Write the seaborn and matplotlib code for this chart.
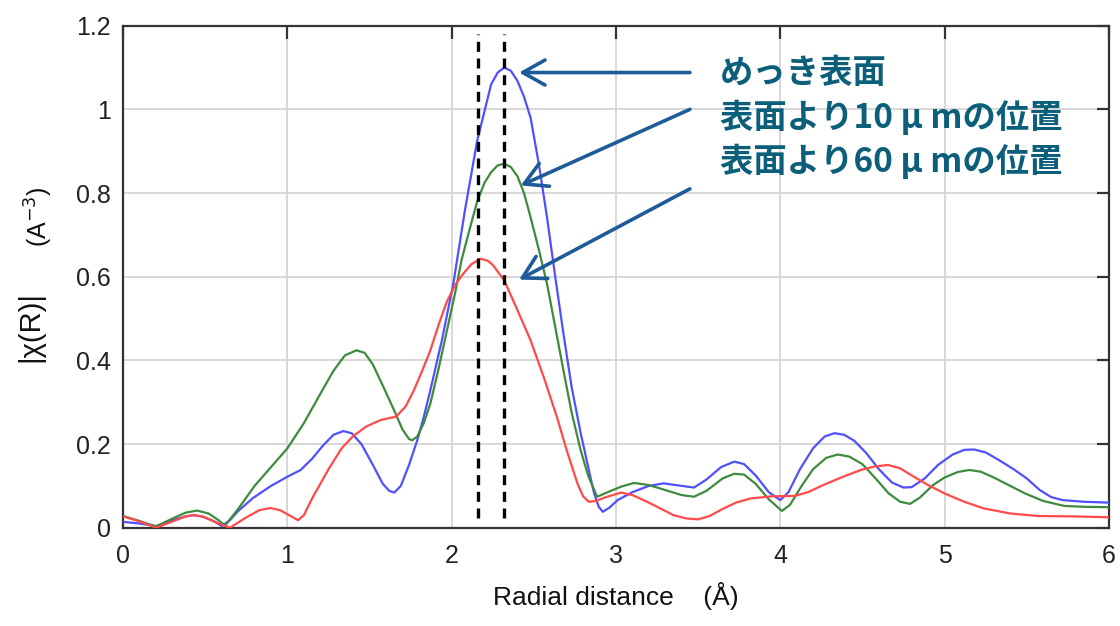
import pandas as pd
import matplotlib.pyplot as plt
import seaborn as sns
import numpy as np

# values
blue_x = [0.0, 0.1, 0.2, 0.3, 0.38, 0.43, 0.48, 0.55, 0.60, 0.65, 0.7, 0.79, 0.9, 1.0, 1.08,
          1.15, 1.22, 1.28, 1.34, 1.39, 1.45, 1.52, 1.58, 1.62, 1.65, 1.69, 1.74, 1.79, 1.83,
          1.87, 1.94, 2.01, 2.08, 2.155, 2.24, 2.28, 2.32, 2.36, 2.40, 2.44, 2.48, 2.53, 2.58,
          2.63, 2.68, 2.73, 2.785, 2.83, 2.866, 2.895, 2.92, 2.96, 3.01, 3.1, 3.2, 3.29, 3.4,
          3.475, 3.55, 3.64, 3.72, 3.78, 3.85, 3.93, 4.0, 4.05, 4.12, 4.2, 4.27, 4.33, 4.39,
          4.45, 4.52, 4.6, 4.68, 4.75, 4.8, 4.88, 4.96, 5.05, 5.12, 5.18, 5.25, 5.33, 5.42,
          5.5, 5.58, 5.65, 5.72, 5.85, 6.0]
blue_y = [0.014, 0.010, 0.004, 0.018, 0.027, 0.030, 0.027, 0.016, 0.004, 0.018, 0.040, 0.071,
          0.100, 0.122, 0.138, 0.165, 0.198, 0.222, 0.231, 0.226, 0.200, 0.150, 0.105, 0.088,
          0.084, 0.100, 0.150, 0.209, 0.265, 0.329, 0.448, 0.584, 0.758, 0.925, 1.060, 1.088,
          1.100, 1.092, 1.068, 1.030, 0.980, 0.870, 0.742, 0.600, 0.464, 0.336, 0.226, 0.146,
          0.083, 0.050, 0.038, 0.048, 0.066, 0.085, 0.100, 0.106, 0.100, 0.096, 0.115, 0.145,
          0.158, 0.152, 0.125, 0.085, 0.066, 0.085, 0.140, 0.190, 0.218, 0.226, 0.222, 0.208,
          0.180, 0.140, 0.108, 0.096, 0.097, 0.118, 0.150, 0.175, 0.186, 0.187, 0.180, 0.162,
          0.140, 0.118, 0.090, 0.073, 0.066, 0.062, 0.060]

green_x = [0.0, 0.1, 0.2, 0.3, 0.38, 0.45, 0.52, 0.58, 0.62, 0.7, 0.8, 0.9, 1.0, 1.1, 1.2,
           1.28, 1.35, 1.42, 1.47, 1.52, 1.58, 1.65, 1.7, 1.74, 1.76, 1.79, 1.83, 1.87, 1.92,
           1.97, 2.02, 2.06, 2.11, 2.155, 2.2, 2.24, 2.28, 2.32, 2.36, 2.40, 2.44, 2.48, 2.53,
           2.58, 2.63, 2.68, 2.73, 2.785, 2.83, 2.885, 2.95, 3.03, 3.11, 3.2, 3.3, 3.4, 3.475,
           3.55, 3.65, 3.72, 3.78, 3.85, 3.93, 4.01, 4.06, 4.13, 4.2, 4.28, 4.35, 4.42, 4.5,
           4.58, 4.66, 4.73, 4.79, 4.85, 4.93, 5.0, 5.08, 5.15, 5.22, 5.3, 5.4, 5.49, 5.6,
           5.73, 5.85, 6.0]
green_y = [0.028, 0.016, 0.003, 0.022, 0.036, 0.041, 0.034, 0.018, 0.005, 0.045, 0.100, 0.145,
           0.190, 0.250, 0.320, 0.375, 0.412, 0.424, 0.418, 0.390, 0.340, 0.280, 0.235, 0.212,
           0.209, 0.218, 0.250, 0.297, 0.380, 0.470, 0.560, 0.640, 0.715, 0.780, 0.825, 0.850,
           0.866, 0.870, 0.862, 0.840, 0.800, 0.742, 0.665, 0.583, 0.480, 0.376, 0.275, 0.185,
           0.125, 0.074, 0.085, 0.098, 0.107, 0.102, 0.090, 0.078, 0.074, 0.088, 0.118, 0.129,
           0.127, 0.105, 0.068, 0.040, 0.055, 0.100, 0.140, 0.167, 0.175, 0.170, 0.152, 0.118,
           0.082, 0.062, 0.057, 0.072, 0.102, 0.120, 0.133, 0.138, 0.134, 0.120, 0.100, 0.082,
           0.064, 0.052, 0.050, 0.049]

red_x = [0.0, 0.1, 0.2, 0.3, 0.38, 0.43, 0.49, 0.57, 0.65, 0.75, 0.83, 0.895, 0.955, 1.01,
         1.065, 1.1, 1.15, 1.25, 1.33, 1.40, 1.48, 1.565, 1.62, 1.66, 1.72, 1.77, 1.82, 1.87,
         1.92, 1.97, 2.02, 2.07, 2.12, 2.175, 2.22, 2.25, 2.32, 2.40, 2.48, 2.56, 2.64, 2.7,
         2.765, 2.8, 2.835, 2.88, 2.93, 3.03, 3.1, 3.2, 3.35, 3.43, 3.5, 3.57, 3.65, 3.73,
         3.82, 3.95, 4.085, 4.17, 4.25, 4.37, 4.49, 4.57, 4.655, 4.73, 4.8, 4.9, 5.0, 5.12,
         5.24, 5.4, 5.57, 5.8, 6.0]
red_y = [0.027, 0.015, 0.000, 0.015, 0.027, 0.030, 0.026, 0.012, 0.000, 0.025, 0.042, 0.047,
         0.042, 0.030, 0.018, 0.030, 0.070, 0.140, 0.190, 0.219, 0.242, 0.257, 0.262, 0.265,
         0.290, 0.329, 0.375, 0.424, 0.485, 0.540, 0.580, 0.607, 0.630, 0.643, 0.638, 0.628,
         0.591, 0.520, 0.448, 0.360, 0.265, 0.185, 0.106, 0.075, 0.062, 0.064, 0.072, 0.084,
         0.078, 0.060, 0.030, 0.022, 0.020, 0.028, 0.045, 0.060, 0.070, 0.075, 0.076, 0.085,
         0.100, 0.120, 0.138, 0.146, 0.150, 0.142, 0.125, 0.102, 0.082, 0.062, 0.046, 0.034,
         0.028, 0.027, 0.025]

series_names = ['めっき表面', '表面より10 μ mの位置', '表面より60 μ mの位置']
series_colors = ['#5050ff', '#3d8b3d', '#ff4a4a']

peak_positions = [2.16, 2.32]
arrow_tips = [(2.41, 1.088), (2.42, 0.818), (2.41, 0.593)]
arrow_starts = [(3.45, 1.088), (3.45, 1.0), (3.45, 0.81)]

xticks = [0, 1, 2, 3, 4, 5, 6]
yticks = [0, 0.2, 0.4, 0.6, 0.8, 1.0, 1.2]
ytick_labels = ['0', '0.2', '0.4', '0.6', '0.8', '1', '1.2']

df = pd.concat([
    pd.DataFrame({'R': blue_x, 'chi': blue_y, 'sample': series_names[0]}),
    pd.DataFrame({'R': green_x, 'chi': green_y, 'sample': series_names[1]}),
    pd.DataFrame({'R': red_x, 'chi': red_y, 'sample': series_names[2]}),
])

sns.set_theme(style='whitegrid')
plt.rcParams['font.family'] = ['Liberation Sans', 'Noto Sans CJK JP', 'DejaVu Sans']

fig = plt.figure(figsize=(11.2, 6.26), dpi=100)
ax = fig.add_axes([0.110, 0.157, 0.880, 0.802])

sns.lineplot(data=df, x='R', y='chi', hue='sample', palette=series_colors,
             linewidth=1.6, legend=False, ax=ax, zorder=3)

# dashed markers at the peak positions
ax.vlines(peak_positions, 0.023, 1.18, colors='black', linestyles=(0, (3, 2)),
          linewidth=2.4, zorder=4)

# arrows pointing at each curve
for tip, start in zip(arrow_tips, arrow_starts):
    ax.annotate('', xy=tip, xytext=start,
                arrowprops=dict(arrowstyle='->,head_length=0.8,head_width=0.45',
                                color='#1f5b98', lw=2.6, mutation_scale=20,
                                shrinkA=0, shrinkB=0), zorder=5)

# labels for the arrows
for i, name in enumerate(series_names):
    ax.text(720, 626 - 73 - i * 44, name, transform=None, ha='left', va='center',
            fontsize=24, fontweight='bold', color='#0c5f7a',
            family=['Noto Sans CJK JP', 'DejaVu Sans'])

ax.set_xlim(0, 6)
ax.set_ylim(0, 1.2)
ax.set_xticks(xticks)
ax.set_yticks(yticks)
ax.set_yticklabels(ytick_labels)
ax.grid(True, color='#d6d6d6', linewidth=1.3)
ax.set_facecolor('white')
for s in ax.spines.values():
    s.set_visible(True)
    s.set_color('#333333')
    s.set_linewidth(1.6)
ax.tick_params(direction='in', length=9, width=1.6, color='#333333',
               top=True, right=True, labelsize=18, labelcolor='#222222')
ax.tick_params(axis='x', pad=12)
ax.tick_params(axis='y', pad=9)

ax.set_xlabel('Radial distance    (Å)', fontsize=19, color='#111111', labelpad=10)
ax.set_ylabel('')
fig.text(30 / 1120, 1 - 327 / 626, '|χ(R)|', rotation=90, ha='center', va='center',
         fontsize=21, color='#111111')
fig.text(39 / 1120, 1 - 217 / 626, '(A$^{-3}$)', rotation=90, ha='center', va='center',
         fontsize=18, color='#111111')

fig.savefig('out.png', dpi=100)
plt.close()
